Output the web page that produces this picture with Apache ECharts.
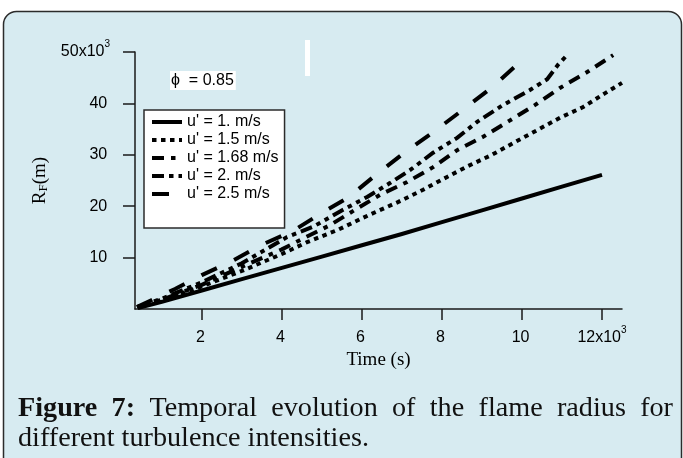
<!DOCTYPE html>
<html><head><meta charset="utf-8">
<script src="https://cdn.jsdelivr.net/npm/echarts@6/dist/echarts.min.js"></script>
<style>html,body{margin:0;padding:0;background:#fff;}#c{width:683px;height:458px;}</style>
</head><body><div id="c"></div>
<script>
// ---- data ----
const seriesNames = ["u' = 1. m/s", "u' = 1.5 m/s", "u' = 1.68 m/s", "u' = 2. m/s", "u' = 2.5 m/s"];
const time_u1 = [400, 1000, 2000, 3000, 4000, 5000, 6000, 7000, 8000, 9000, 10000, 11000, 12000];
const radius_u1 = [200, 1400, 3600, 5800, 8000, 10200, 12400, 14600, 16900, 19200, 21500, 23800, 26100];
const time_u15 = [400, 1000, 2000, 3000, 4000, 4630, 5400, 6180, 6900, 7530, 8130, 8650, 9250, 9830, 10380, 10950, 11530, 12080, 12500];
const radius_u15 = [400, 1700, 4400, 7400, 10700, 13000, 15400, 18300, 20800, 23200, 25700, 27800, 30000, 32500, 34800, 37200, 39300, 42000, 44000];
const time_u168 = [400, 1000, 2000, 3000, 4000, 4500, 5200, 5830, 6450, 7130, 7780, 8380, 9030, 9680, 10330, 10950, 11630, 12280];
const radius_u168 = [400, 1800, 4700, 8200, 11600, 13600, 16300, 19300, 22200, 24700, 27600, 30900, 33500, 36600, 39700, 43000, 46100, 49400];
const time_u2 = [400, 1000, 2000, 3000, 4130, 4780, 5530, 6130, 6700, 7200, 7780, 8380, 8880, 9530, 10200, 10630, 10900, 11150];
const radius_u2 = [400, 2000, 5200, 8900, 14000, 16000, 19300, 21800, 24500, 27000, 30400, 33300, 36400, 39700, 42600, 44700, 47500, 49600];
const time_u25 = [375, 750, 1330, 2000, 2800, 3500, 4280, 5000, 5680, 6380, 7080, 7780, 8480, 9230, 9930, 10080];
const radius_u25 = [400, 1750, 3900, 6600, 9500, 12500, 15200, 18700, 21800, 26300, 30500, 34400, 38500, 43000, 47900, 49000];

const xTickValues = [2000, 4000, 6000, 8000, 10000, 12000];
const xTickLabels = ['2', '4', '6', '8', '10', '12x10'];
const xTickSup = ['', '', '', '', '', '3'];
const yTickValues = [10000, 20000, 30000, 40000, 50000];
const yTickLabels = ['10', '20', '30', '40', '50x10'];
const yTickSup = ['', '', '', '', '3'];

const phiText = 'ϕ  = 0.85';
const xName = 'Time (s)';
const captionLine1 = [['Figure', true], ['7:', true], ['Temporal', false], ['evolution', false], ['of', false], ['the', false], ['flame', false], ['radius', false], ['for', false]];
const captionLine2 = 'different turbulence intensities.';

// ---- styles ----
const dashStyles = ['solid', [4.5, 4.5], [12, 7, 4.5, 7], [12, 5, 4.5, 5, 4.5, 5], [17, 19]];
const times = [time_u1, time_u15, time_u168, time_u2, time_u25];
const radii = [radius_u1, radius_u15, radius_u168, radius_u2, radius_u25];

const sans = 'Liberation Sans';
const serif = 'Liberation Serif';
const axisColor = '#1a1a1a';

function labelRich(main, sup) {
  return '{b|' + main + '}{s|' + (sup || ' ') + '}';
}
const richLabel = {
  b: { fontSize: 16, lineHeight: 16, fontFamily: sans, color: '#000', verticalAlign: 'middle' },
  s: { fontSize: 10, fontFamily: sans, color: '#000', verticalAlign: 'top', padding: [0, 0, 15, 0] }
};

// ---- caption layout (justify line 1) ----
const mctx = document.createElement('canvas').getContext('2d');
function tw(text, bold, size) {
  mctx.font = (bold ? 'bold ' : '') + size + 'px "' + serif + '"';
  return mctx.measureText(text).width;
}
const capLeft = 18, capRight = 673;
const capSize = Math.round(351 / tw(captionLine2, false, 100) * 100 * 10) / 10;
const wordWidths = captionLine1.map(w => tw(w[0], w[1], capSize));
const totalW = wordWidths.reduce((a, b) => a + b, 0);
const gap = (capRight - capLeft - totalW) / (captionLine1.length - 1);
const captionEls = [];
let cx = capLeft;
captionLine1.forEach((w, i) => {
  captionEls.push({
    type: 'text', x: cx, y: 409, z: 10,
    style: { text: w[0], fontFamily: serif, fontSize: capSize, fontWeight: w[1] ? 'bold' : 'normal', fill: '#111', align: 'left', verticalAlign: 'middle' }
  });
  cx += wordWidths[i] + gap;
});
captionEls.push({
  type: 'text', x: capLeft, y: 439, z: 10,
  style: { text: captionLine2, fontFamily: serif, fontSize: capSize, fill: '#111', align: 'left', verticalAlign: 'middle' }
});

const chart = echarts.init(document.getElementById('c'), null, { renderer: 'canvas' });
chart.setOption({
  animation: false,
  backgroundColor: '#ffffff',
  graphic: [
    { type: 'rect', z: -10, shape: { x: 3.5, y: 11.5, width: 678, height: 475, r: 13 },
      style: { fill: '#d7ebf1', stroke: '#2b2b2b', lineWidth: 1.5 } },
    { type: 'rect', z: 5, shape: { x: 305, y: 40, width: 5, height: 36 }, style: { fill: '#ffffff' } },
    { type: 'text', x: 170, y: 71, z: 5,
      style: { text: phiText, fontFamily: sans, fontSize: 16, fill: '#000', backgroundColor: '#ffffff', padding: [2, 2, 1, 1], align: 'left', verticalAlign: 'top' } }
  ].concat(captionEls),
  grid: { left: 135, top: 52, right: 61, bottom: 149, containLabel: false },
  legend: {
    orient: 'vertical', left: 144, top: 110,
    backgroundColor: '#ffffff', borderColor: '#2b2b2b', borderWidth: 1.5,
    padding: [4, 6, 26, 6], itemWidth: 30, itemHeight: 14, itemGap: 2,
    itemStyle: { color: 'rgba(0,0,0,0)', borderWidth: 0 },
    lineStyle: { width: 4 },
    textStyle: { fontFamily: sans, fontSize: 16, lineHeight: 16, color: '#000' },
    data: seriesNames
  },
  xAxis: {
    type: 'value', min: 330, max: 12500,
    name: xName, nameLocation: 'middle', nameGap: 33,
    nameTextStyle: { fontFamily: serif, fontSize: 19, color: '#000' },
    axisLine: { show: true, lineStyle: { color: axisColor, width: 1.5 } },
    axisTick: { show: true, inside: false, length: 11, customValues: xTickValues, lineStyle: { color: axisColor, width: 1.5 } },
    axisLabel: { margin: 16, customValues: xTickValues,
      formatter: v => { const i = xTickValues.indexOf(v); return i < 0 ? '' : labelRich(xTickLabels[i], xTickSup[i]); },
      rich: richLabel },
    splitLine: { show: false }
  },
  yAxis: {
    type: 'value', min: 0, max: 50000,
    name: '{r|R}{sub|F}{r|(m)}', nameLocation: 'middle', nameGap: 82,
    nameTextStyle: { fontFamily: serif, fontSize: 19, color: '#000',
      rich: {
        r: { fontFamily: serif, fontSize: 19, lineHeight: 19, color: '#000', verticalAlign: 'top' },
        sub: { fontFamily: serif, fontSize: 13, lineHeight: 13, color: '#000', verticalAlign: 'bottom', padding: [8, 0, 0, 0] }
      } },
    axisLine: { show: true, lineStyle: { color: axisColor, width: 1.5 } },
    axisTick: { show: true, inside: false, length: 12, customValues: yTickValues, lineStyle: { color: axisColor, width: 1.5 } },
    axisLabel: { margin: 25, customValues: yTickValues,
      formatter: v => { const i = yTickValues.indexOf(v); return i < 0 ? '' : labelRich(yTickLabels[i], yTickSup[i]); },
      rich: richLabel },
    splitLine: { show: false }
  },
  series: seriesNames.map((name, k) => ({
    name: name, type: 'line', symbol: 'none', showSymbol: false, smooth: false,
    lineStyle: { color: '#000', width: 4, type: dashStyles[k], cap: 'butt', join: 'miter' },
    itemStyle: { color: '#000' },
    data: times[k].map((t, i) => [t, radii[k][i]])
  }))
});
</script></body></html>
